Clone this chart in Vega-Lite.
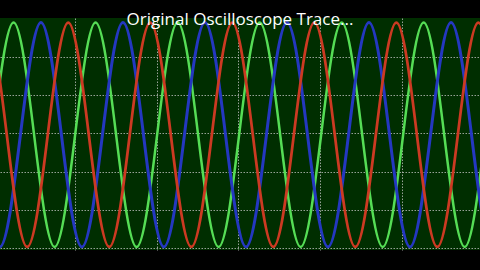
{
  "$schema": "https://vega.github.io/schema/vega-lite/v6.json",
  "width": 480,
  "height": 232,
  "autosize": {"type": "none"},
  "padding": {"left": 0, "top": 18, "right": 0, "bottom": 20},
  "background": "#000000",
  "title": {
    "text": "Original Oscilloscope Trace...",
    "color": "#ffffff",
    "font": "Open Sans",
    "fontSize": 17,
    "fontWeight": "normal",
    "anchor": "middle",
    "baseline": "alphabetic",
    "offset": -7,
    "dy": 17
  },
  "config": {
    "view": {"fill": "#002e00", "stroke": null}
  },
  "data": {
    "values": [
      {"s": "G", "t": -1.256, "v": -2.97}, {"s": "G", "t": -1.005, "v": -0.04}, {"s": "G", "t": -0.754, "v": 2.89}, {"s": "G", "t": -0.503, "v": -0.04},
      {"s": "G", "t": -0.253, "v": -2.97}, {"s": "G", "t": -0.002, "v": -0.04}, {"s": "G", "t": 0.249, "v": 2.89}, {"s": "G", "t": 0.500, "v": -0.04},
      {"s": "G", "t": 0.751, "v": -2.97}, {"s": "G", "t": 1.002, "v": -0.04}, {"s": "G", "t": 1.252, "v": 2.89}, {"s": "G", "t": 1.503, "v": -0.04},
      {"s": "G", "t": 1.754, "v": -2.97}, {"s": "G", "t": 2.005, "v": -0.04}, {"s": "G", "t": 2.256, "v": 2.89}, {"s": "G", "t": 2.506, "v": -0.04},
      {"s": "G", "t": 2.757, "v": -2.97}, {"s": "G", "t": 3.008, "v": -0.04}, {"s": "G", "t": 3.259, "v": 2.89}, {"s": "G", "t": 3.510, "v": -0.04},
      {"s": "G", "t": 3.760, "v": -2.97}, {"s": "G", "t": 4.011, "v": -0.04}, {"s": "G", "t": 4.262, "v": 2.89}, {"s": "G", "t": 4.513, "v": -0.04},
      {"s": "G", "t": 4.764, "v": -2.97}, {"s": "G", "t": 5.014, "v": -0.04}, {"s": "G", "t": 5.265, "v": 2.89}, {"s": "G", "t": 5.516, "v": -0.04},
      {"s": "G", "t": 5.767, "v": -2.97}, {"s": "G", "t": 6.018, "v": -0.04}, {"s": "G", "t": 6.268, "v": 2.89}, {"s": "G", "t": 6.519, "v": -0.04},
      {"s": "G", "t": 6.770, "v": -2.97}, {"s": "G", "t": 7.021, "v": -0.04},

      {"s": "B", "t": -0.921, "v": -2.97}, {"s": "B", "t": -0.671, "v": -0.04}, {"s": "B", "t": -0.420, "v": 2.89}, {"s": "B", "t": -0.169, "v": -0.04},
      {"s": "B", "t": 0.082, "v": -2.97}, {"s": "B", "t": 0.333, "v": -0.04}, {"s": "B", "t": 0.584, "v": 2.89}, {"s": "B", "t": 0.834, "v": -0.04},
      {"s": "B", "t": 1.085, "v": -2.97}, {"s": "B", "t": 1.336, "v": -0.04}, {"s": "B", "t": 1.587, "v": 2.89}, {"s": "B", "t": 1.838, "v": -0.04},
      {"s": "B", "t": 2.088, "v": -2.97}, {"s": "B", "t": 2.339, "v": -0.04}, {"s": "B", "t": 2.590, "v": 2.89}, {"s": "B", "t": 2.841, "v": -0.04},
      {"s": "B", "t": 3.092, "v": -2.97}, {"s": "B", "t": 3.342, "v": -0.04}, {"s": "B", "t": 3.593, "v": 2.89}, {"s": "B", "t": 3.844, "v": -0.04},
      {"s": "B", "t": 4.095, "v": -2.97}, {"s": "B", "t": 4.346, "v": -0.04}, {"s": "B", "t": 4.596, "v": 2.89}, {"s": "B", "t": 4.847, "v": -0.04},
      {"s": "B", "t": 5.098, "v": -2.97}, {"s": "B", "t": 5.349, "v": -0.04}, {"s": "B", "t": 5.600, "v": 2.89}, {"s": "B", "t": 5.850, "v": -0.04},
      {"s": "B", "t": 6.101, "v": -2.97}, {"s": "B", "t": 6.352, "v": -0.04}, {"s": "B", "t": 6.603, "v": 2.89}, {"s": "B", "t": 6.854, "v": -0.04},
      {"s": "B", "t": 7.104, "v": -2.97}, {"s": "B", "t": 7.355, "v": -0.04},

      {"s": "R", "t": -1.590, "v": -2.97}, {"s": "R", "t": -1.339, "v": -0.04}, {"s": "R", "t": -1.089, "v": 2.89}, {"s": "R", "t": -0.838, "v": -0.04},
      {"s": "R", "t": -0.587, "v": -2.97}, {"s": "R", "t": -0.336, "v": -0.04}, {"s": "R", "t": -0.085, "v": 2.89}, {"s": "R", "t": 0.166, "v": -0.04},
      {"s": "R", "t": 0.416, "v": -2.97}, {"s": "R", "t": 0.667, "v": -0.04}, {"s": "R", "t": 0.918, "v": 2.89}, {"s": "R", "t": 1.169, "v": -0.04},
      {"s": "R", "t": 1.420, "v": -2.97}, {"s": "R", "t": 1.670, "v": -0.04}, {"s": "R", "t": 1.921, "v": 2.89}, {"s": "R", "t": 2.172, "v": -0.04},
      {"s": "R", "t": 2.423, "v": -2.97}, {"s": "R", "t": 2.674, "v": -0.04}, {"s": "R", "t": 2.924, "v": 2.89}, {"s": "R", "t": 3.175, "v": -0.04},
      {"s": "R", "t": 3.426, "v": -2.97}, {"s": "R", "t": 3.677, "v": -0.04}, {"s": "R", "t": 3.928, "v": 2.89}, {"s": "R", "t": 4.178, "v": -0.04},
      {"s": "R", "t": 4.429, "v": -2.97}, {"s": "R", "t": 4.680, "v": -0.04}, {"s": "R", "t": 4.931, "v": 2.89}, {"s": "R", "t": 5.182, "v": -0.04},
      {"s": "R", "t": 5.432, "v": -2.97}, {"s": "R", "t": 5.683, "v": -0.04}, {"s": "R", "t": 5.934, "v": 2.89}, {"s": "R", "t": 6.185, "v": -0.04},
      {"s": "R", "t": 6.436, "v": -2.97}, {"s": "R", "t": 6.686, "v": -0.04}, {"s": "R", "t": 6.937, "v": 2.89}
    ]
  },
  "mark": {"type": "line", "interpolate": "natural", "clip": true},
  "encoding": {
    "x": {
      "field": "t",
      "type": "quantitative",
      "scale": {"domain": [0.083, 5.954], "nice": false, "zero": false},
      "axis": {
        "values": [1, 2, 3, 4, 5],
        "grid": true,
        "gridColor": "#c8c8c8",
        "gridDash": [1.5, 1.5],
        "gridOpacity": 0.75,
        "gridWidth": 1,
        "labels": false,
        "ticks": false,
        "domain": false,
        "title": null
      }
    },
    "y": {
      "field": "v",
      "type": "quantitative",
      "scale": {"domain": [-3.05, 3.01], "nice": false, "zero": false},
      "axis": {
        "values": [-3, -2, -1, 0, 1, 2],
        "grid": true,
        "gridColor": "#c8c8c8",
        "gridDash": [1.5, 1.5],
        "gridOpacity": 0.75,
        "gridWidth": 1,
        "labels": false,
        "ticks": false,
        "domain": false,
        "title": null
      }
    },
    "color": {
      "field": "s",
      "type": "nominal",
      "scale": {"domain": ["B", "R", "G"], "range": ["#2438c0", "#cc3a22", "#55dd55"]},
      "legend": null
    },
    "strokeWidth": {
      "field": "s",
      "type": "nominal",
      "scale": {"domain": ["B", "R", "G"], "range": [3, 2.5, 1.5]},
      "legend": null
    },
    "order": {"field": "t", "type": "quantitative"}
  }
}
